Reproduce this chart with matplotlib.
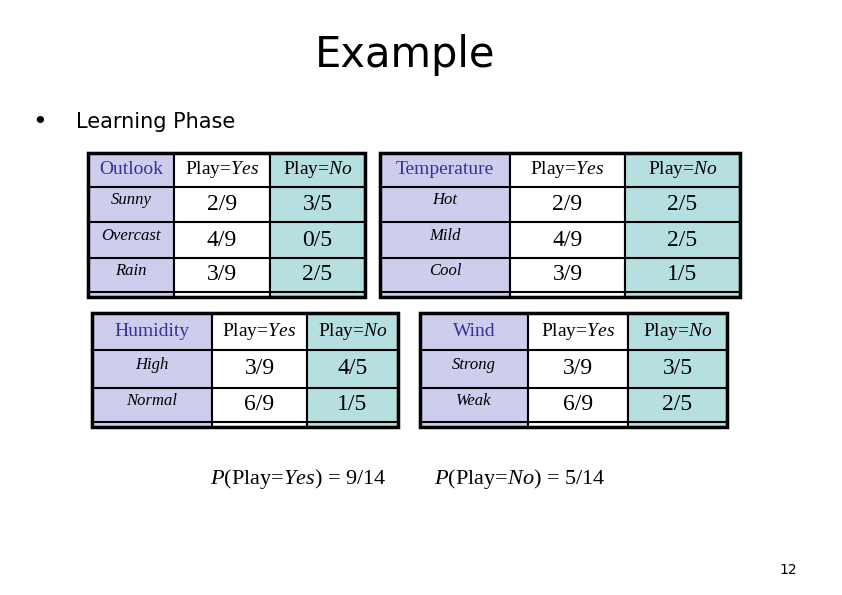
import matplotlib
matplotlib.use("Agg")
import matplotlib.pyplot as plt
from matplotlib.patches import Rectangle

LAV = "#cdcdee"
TEAL = "#b6dfdf"
HEAD = "#333399"
SERIF = "Liberation Serif"

# data
outlook_vals = ["Sunny", "Overcast", "Rain"]
outlook_yes = ["2/9", "4/9", "3/9"]
outlook_no = ["3/5", "0/5", "2/5"]
temp_vals = ["Hot", "Mild", "Cool"]
temp_yes = ["2/9", "4/9", "3/9"]
temp_no = ["2/5", "2/5", "1/5"]
hum_vals = ["High", "Normal"]
hum_yes = ["3/9", "6/9"]
hum_no = ["4/5", "1/5"]
wind_vals = ["Strong", "Weak"]
wind_yes = ["3/9", "6/9"]
wind_no = ["3/5", "2/5"]

plt.rcParams["mathtext.fontset"] = "custom"
plt.rcParams["mathtext.it"] = "Liberation Serif:italic"

fig = plt.figure(figsize=(8.42, 5.95), dpi=100)
ax = fig.add_axes([0, 0, 1, 1])
ax.set_xlim(0, 842)
ax.set_ylim(595, 0)
ax.axis("off")


def draw_table(name, vals, yes, no, cols, rows, tail):
    x0, x1, x2, x3 = cols
    bottom = rows[-1] + tail
    fills = [LAV, "white", TEAL]
    for i in range(3):
        ax.add_patch(Rectangle((cols[i], rows[0]), cols[i + 1] - cols[i],
                               bottom - rows[0], facecolor=fills[i],
                               edgecolor="black", lw=1.5))
    ax.add_patch(Rectangle((x0, rows[0]), x3 - x0, bottom - rows[0],
                           fill=False, edgecolor="black", lw=2.5))
    for r in rows[1:]:
        ax.plot([x0, x3], [r, r], color="black", lw=1.5)
    hy = (rows[0] + rows[1]) / 2
    ax.text((x0 + x1) / 2, hy, name, ha="center", va="center",
            fontsize=14, color=HEAD, family=SERIF)
    ax.text((x1 + x2) / 2, hy, "Play=$\\it{Yes}$", ha="center", va="center",
            fontsize=14, family=SERIF)
    ax.text((x2 + x3) / 2, hy, "Play=$\\it{No}$", ha="center", va="center",
            fontsize=14, family=SERIF)
    for k, (v, a, b) in enumerate(zip(vals, yes, no)):
        yc = (rows[k + 1] + rows[k + 2]) / 2
        ax.text((x0 + x1) / 2, yc - 4, v, ha="center", va="center",
                fontsize=12, style="italic", family=SERIF)
        ax.text((x1 + x2) / 2, yc, a, ha="center", va="center",
                fontsize=17, family=SERIF)
        ax.text((x2 + x3) / 2, yc, b, ha="center", va="center",
                fontsize=17, family=SERIF)


draw_table("Outlook", outlook_vals, outlook_yes, outlook_no,
           [88, 174, 270, 365], [153, 187, 222, 258, 292], 5)
draw_table("Temperature", temp_vals, temp_yes, temp_no,
           [380, 510, 625, 740], [153, 187, 222, 258, 292], 5)
draw_table("Humidity", hum_vals, hum_yes, hum_no,
           [92, 212, 307, 398], [313, 350, 388, 422], 5)
draw_table("Wind", wind_vals, wind_yes, wind_no,
           [420, 528, 628, 727], [313, 350, 388, 422], 5)

ax.text(405, 55, "Example", ha="center", va="center", fontsize=30,
        family="Liberation Sans Narrow")
ax.text(40, 122, "\u2022", ha="center", va="center", fontsize=18)
ax.text(76, 122, "Learning Phase", ha="left", va="center", fontsize=15)
ax.text(298, 479, "$\\it{P}$(Play=$\\it{Yes}$) = 9/14", ha="center",
        va="center", fontsize=16, family=SERIF)
ax.text(520, 479, "$\\it{P}$(Play=$\\it{No}$) = 5/14", ha="center",
        va="center", fontsize=16, family=SERIF)
ax.text(788, 570, "12", ha="center", va="center", fontsize=10)

fig.savefig("out.png", dpi=100, facecolor="white")
